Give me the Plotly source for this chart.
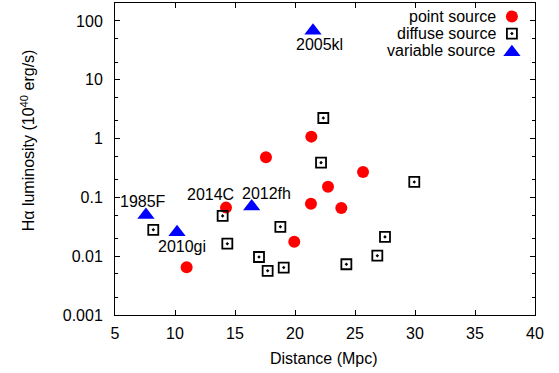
import math
import plotly.graph_objects as go

# ---- data ----
point_x = [10.97, 14.25, 17.58, 19.94, 21.33, 21.36, 22.75, 23.86, 25.67]
point_y = [0.0065, 0.067, 0.48, 0.0176, 0.078, 1.08, 0.152, 0.066, 0.27]

diffuse_x = [22.36, 22.17, 29.94, 8.19, 13.97, 14.36, 17.0, 17.72, 19.06, 18.78, 24.28, 26.86, 27.5]
diffuse_y = [2.24, 0.39, 0.183, 0.0281, 0.0485, 0.0163, 0.0097, 0.00565, 0.0064, 0.0316, 0.0073, 0.0102, 0.0213]

variable_x = [7.58, 10.17, 16.39, 21.5]
variable_y = [0.050, 0.0255, 0.070, 68.5]
variable_names = ["1985F", "2010gi", "2012fh", "2005kl"]

# extra label attached to a point source
point_label_name = "2014C"
point_label_index = 1

legend_names = ["point source", "diffuse source", "variable source"]

FONT = "Liberation Sans, Arial, sans-serif"
RED = "#ff0000"
BLUE = "#0000ff"
TRI_SIZE = 15
SQ_SIZE = 10

fig = go.Figure()

fig.add_trace(go.Scatter(x=point_x, y=point_y, mode="markers",
                         marker=dict(symbol="circle", size=12, color=RED, line=dict(width=0)),
                         showlegend=False, hoverinfo="skip"))
fig.add_trace(go.Scatter(x=diffuse_x, y=diffuse_y, mode="markers",
                         marker=dict(symbol="square-open-dot", size=SQ_SIZE, color="black",
                                     line=dict(width=1.8, color="black")),
                         showlegend=False, hoverinfo="skip"))
fig.add_trace(go.Scatter(x=variable_x, y=variable_y, mode="markers",
                         marker=dict(symbol="triangle-up", size=TRI_SIZE, color=BLUE, line=dict(width=0)),
                         showlegend=False, hoverinfo="skip"))

# ---- labels ----
label_offsets = {  # (xshift, yshift) in px
    "1985F": (-3, 14),
    "2010gi": (5, -14),
    "2012fh": (15, 13),
    "2005kl": (6, -14),
}
for name, x, y in zip(variable_names, variable_x, variable_y):
    dx, dy = label_offsets[name]
    fig.add_annotation(x=x, y=math.log10(y), text=name, showarrow=False, xshift=dx, yshift=dy,
                       xanchor="center", yanchor="middle",
                       font=dict(family=FONT, size=16, color="black"))
fig.add_annotation(x=point_x[point_label_index], y=math.log10(point_y[point_label_index]),
                   text=point_label_name, showarrow=False, xshift=-16, yshift=13,
                   xanchor="center", yanchor="middle",
                   font=dict(family=FONT, size=16, color="black"))

# ---- manual legend (text right-aligned, symbol on the right) ----
leg_y = [0.957, 0.902, 0.848]
leg_text_x = 0.912
leg_sym_x = 0.945
for name, yy in zip(legend_names, leg_y):
    fig.add_annotation(xref="paper", yref="paper", x=leg_text_x, y=yy, text=name,
                       showarrow=False, xanchor="right", yanchor="middle",
                       font=dict(family=FONT, size=16, color="black"))
fig.add_trace(go.Scatter(x=[leg_sym_x], y=[leg_y[0]], xaxis="x2", yaxis="y2", mode="markers",
                         marker=dict(symbol="circle", size=12, color=RED), showlegend=False,
                         hoverinfo="skip"))
fig.add_trace(go.Scatter(x=[leg_sym_x], y=[leg_y[1]], xaxis="x2", yaxis="y2", mode="markers",
                         marker=dict(symbol="square-open-dot", size=SQ_SIZE, color="black",
                                     line=dict(width=1.8, color="black")), showlegend=False,
                         hoverinfo="skip"))
fig.add_trace(go.Scatter(x=[leg_sym_x], y=[leg_y[2] - 0.006], xaxis="x2", yaxis="y2", mode="markers",
                         marker=dict(symbol="triangle-up", size=TRI_SIZE, color=BLUE), showlegend=False,
                         hoverinfo="skip"))

# ---- axis titles ----
fig.add_annotation(xref="paper", yref="paper", x=0.498, y=-0.14, text="Distance (Mpc)",
                   showarrow=False, xanchor="center", yanchor="middle",
                   font=dict(family=FONT, size=16, color="black"))
fig.add_annotation(xref="paper", yref="paper", x=-0.207, y=0.56,
                   text="Hα luminosity (10<sup>40</sup> erg/s)", textangle=-90,
                   showarrow=False, xanchor="center", yanchor="middle",
                   font=dict(family=FONT, size=16, color="black"))

axis_common = dict(showline=True, linecolor="black", linewidth=1, mirror="ticks",
                   ticks="inside", tickcolor="black", ticklen=5, tickwidth=1,
                   showgrid=False, zeroline=False,
                   tickfont=dict(family=FONT, size=16, color="black"))

fig.update_layout(
    width=559, height=373,
    margin=dict(l=115, r=24, t=3, b=58),
    paper_bgcolor="white", plot_bgcolor="white",
    showlegend=False,
    hovermode=False,
    xaxis=dict(range=[5, 40], dtick=5, tick0=5, ticklabelstandoff=4, **axis_common),
    yaxis=dict(type="log", range=[-3, 2.306],
               tickvals=[0.001, 0.01, 0.1, 1, 10, 100],
               ticktext=["0.001", "0.01", "0.1", "1", "10", "100"],
               ticklabelstandoff=8,
               minor=dict(ticks="inside", ticklen=3, tickcolor="black",
                          tickvals=[2e-3, 5e-3, 2e-2, 5e-2, 0.2, 0.5, 2, 5, 20, 50, 200]),
               **axis_common),
    xaxis2=dict(overlaying="x", range=[0, 1], visible=False),
    yaxis2=dict(overlaying="y", range=[0, 1], visible=False),
)

fig.write_html("out.html", config={"displayModeBar": False, "staticPlot": True},
               post_script="document.body.style.margin='0';document.body.style.padding='0';")
